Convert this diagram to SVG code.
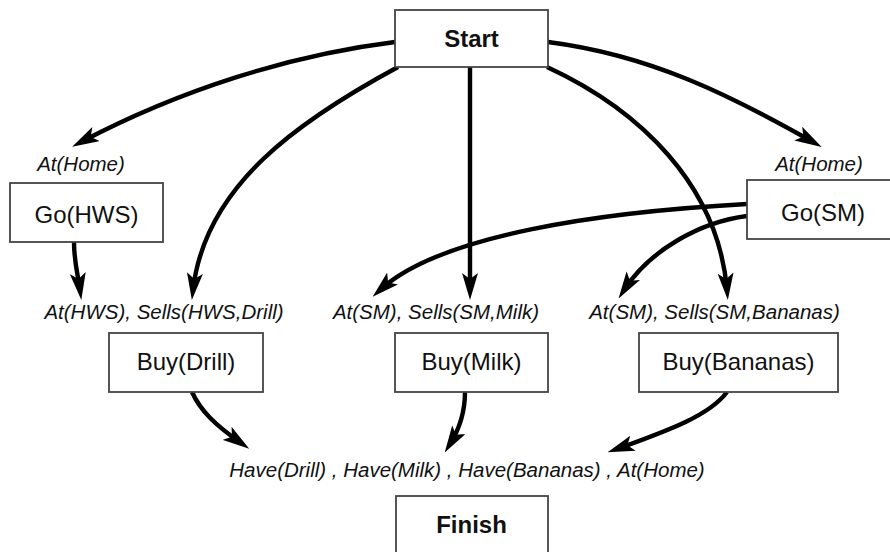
<svg xmlns="http://www.w3.org/2000/svg" width="890" height="552" viewBox="0 0 890 552">
<style>
.box{fill:#fff;stroke:#444;stroke-width:1.8}
.lbl{font-family:"Liberation Sans",Arial,sans-serif;font-size:24px;fill:#111;text-anchor:middle}
.bold{font-weight:bold}
.cond{font-family:"Liberation Sans",Arial,sans-serif;font-size:20.5px;font-style:italic;fill:#111;text-anchor:middle}
.edge{fill:none;stroke:#000;stroke-width:4.4}
</style>
<defs>
<marker id="ah" viewBox="0 0 27 16" refX="17" refY="8" markerWidth="27" markerHeight="16" markerUnits="userSpaceOnUse" orient="auto">
<path d="M0,0 L27,8 L0,16 L6,8 z" fill="#000"/>
</marker>
</defs>
<g id="connectors">
<path class="edge" marker-end="url(#ah)" d="M395,42 C290,55 180,90 81,142"/>
<path class="edge" marker-end="url(#ah)" d="M398,67 C300,120 205,185 193,290"/>
<path class="edge" marker-end="url(#ah)" d="M470,67 L470,290"/>
<path class="edge" marker-end="url(#ah)" d="M547,67 C640,110 718,185 727,290"/>
<path class="edge" marker-end="url(#ah)" d="M548,42 C650,55 730,95 813,142"/>
<path class="edge" marker-end="url(#ah)" d="M74,242 C74,262 78,275 80,290"/>
<path class="edge" marker-end="url(#ah)" d="M747,204 C600,212 440,235 380,290"/>
<path class="edge" marker-end="url(#ah)" d="M747,216 C700,222 650,250 624,290"/>
<path class="edge" marker-end="url(#ah)" d="M192,392 C200,410 215,425 241,443"/>
<path class="edge" marker-end="url(#ah)" d="M465,392 C465,410 460,428 450,444"/>
<path class="edge" marker-end="url(#ah)" d="M727,392 C710,415 670,430 617,449"/>
</g>
<g id="start"><rect class="box" x="395" y="10" width="153" height="57"/><text class="lbl bold" x="471.5" y="47">Start</text></g>
<g id="cond-home-1"><text class="cond" x="81" y="171">At(Home)</text></g>
<g id="cond-home-2"><text class="cond" x="819" y="171">At(Home)</text></g>
<g id="go-hws"><rect class="box" x="10" y="183" width="153" height="59"/><text class="lbl" x="86.5" y="223">Go(HWS)</text></g>
<g id="go-sm"><rect class="box" x="747" y="180" width="153" height="59"/><text class="lbl" x="823" y="221">Go(SM)</text></g>
<g id="cond-drill"><text class="cond" x="164" y="319">At(HWS), Sells(HWS,Drill)</text></g>
<g id="cond-milk"><text class="cond" x="436" y="319">At(SM), Sells(SM,Milk)</text></g>
<g id="cond-bananas"><text class="cond" x="714.5" y="319">At(SM), Sells(SM,Bananas)</text></g>
<g id="buy-drill"><rect class="box" x="109" y="333" width="154" height="59"/><text class="lbl" x="186" y="370">Buy(Drill)</text></g>
<g id="buy-milk"><rect class="box" x="395" y="333" width="153" height="59"/><text class="lbl" x="471.5" y="370">Buy(Milk)</text></g>
<g id="buy-bananas"><rect class="box" x="639" y="333" width="199" height="59"/><text class="lbl" x="738.5" y="370">Buy(Bananas)</text></g>
<g id="cond-finish"><text class="cond" x="467" y="477">Have(Drill) , Have(Milk) , Have(Bananas) , At(Home)</text></g>
<g id="finish"><rect class="box" x="396" y="496" width="152" height="70"/><text class="lbl bold" x="471.5" y="533">Finish</text></g>
</svg>
